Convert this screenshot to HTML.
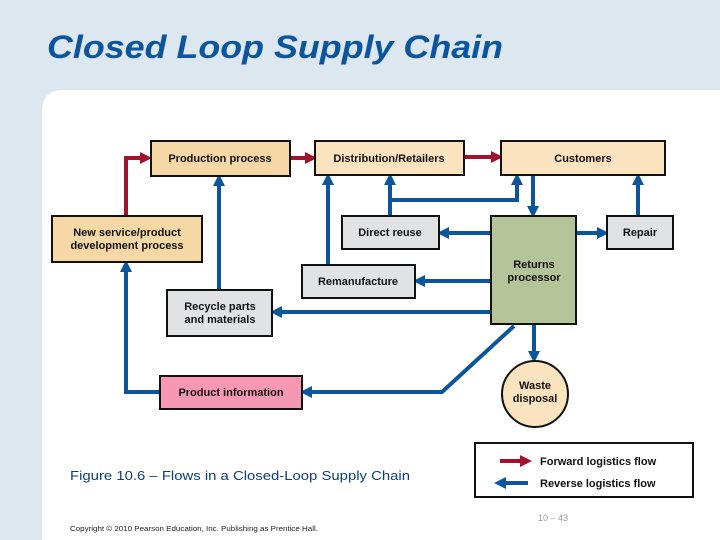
<!DOCTYPE html>
<html><head><meta charset="utf-8"><style>
body{margin:0;width:720px;height:540px;overflow:hidden;background:#dce7f0;font-family:"Liberation Sans",sans-serif;}
</style></head><body>
<svg width="720" height="540" xmlns="http://www.w3.org/2000/svg" style="position:absolute;left:0;top:0">
<defs>
<marker id="b" markerWidth="3" markerHeight="3" refX="2" refY="1.5" orient="auto" markerUnits="strokeWidth"><path d="M0,0L3,1.5L0,3z" fill="#0b559c"/></marker>
<marker id="r" markerWidth="3" markerHeight="3" refX="2" refY="1.5" orient="auto" markerUnits="strokeWidth"><path d="M0,0L3,1.5L0,3z" fill="#a3122d"/></marker>
</defs>
<path d="M42,112 Q42,90 64,90 L720,90 L720,540 L42,540z" fill="#fff"/>
<text x="47" y="58" font-size="32" font-style="italic" font-weight="bold" fill="#0b559c" textLength="456" lengthAdjust="spacingAndGlyphs">Closed Loop Supply Chain</text>
<g fill="none" stroke-width="4">
<path d="M126,216V158H148" stroke="#a3122d" marker-end="url(#r)"/>
<path d="M290,158H313" stroke="#a3122d" marker-end="url(#r)"/>
<path d="M464,157H499" stroke="#a3122d" marker-end="url(#r)"/>
<g stroke="#0b559c" marker-end="url(#b)">
<path d="M219,290V178"/>
<path d="M328,265V177"/>
<path d="M390,216V177"/>
<path d="M390,200H517V177"/>
<path d="M533,175V214"/>
<path d="M491,233H441"/>
<path d="M576,233H605"/>
<path d="M638,216V177"/>
<path d="M491,281H417"/>
<path d="M491,312H274"/>
<path d="M534,324V359"/>
<path d="M514,326L442,392H304"/>
<path d="M160,392H126V264"/>
<path d="M528,483H498"/>
</g>
<path d="M500,461H528" stroke="#a3122d" marker-end="url(#r)"/>
</g>
<g stroke="#111" stroke-width="2">
<rect x="151" y="141" width="139" height="35" fill="#f5d8a6"/>
<rect x="315" y="141" width="149" height="34" fill="#fbe3c0"/>
<rect x="501" y="141" width="164" height="34" fill="#fbe3c0"/>
<rect x="52" y="216" width="150" height="46" fill="#f5d8a6"/>
<rect x="342" y="216" width="97" height="33" fill="#e1e2e3"/>
<rect x="607" y="216" width="66" height="33" fill="#e1e2e3"/>
<rect x="302" y="265" width="113" height="33" fill="#e1e2e3"/>
<rect x="491" y="216" width="85" height="108" fill="#b5c399"/>
<rect x="167" y="290" width="105" height="46" fill="#e1e2e3"/>
<rect x="160" y="376" width="142" height="33" fill="#f698b3"/>
<circle cx="535" cy="394" r="33" fill="#fbe3c0"/>
<rect x="475" y="443" width="218" height="54" fill="none"/>
</g>
<g font-size="11" font-weight="bold" fill="#111" text-anchor="middle">
<text x="220" y="162">Production process</text>
<text x="389" y="162">Distribution/Retailers</text>
<text x="583" y="162">Customers</text>
<text x="127" y="236">New service/product</text>
<text x="127" y="249">development process</text>
<text x="390" y="236">Direct reuse</text>
<text x="640" y="236">Repair</text>
<text x="358" y="285">Remanufacture</text>
<text x="534" y="268">Returns</text>
<text x="534" y="281">processor</text>
<text x="220" y="310">Recycle parts</text>
<text x="220" y="323">and materials</text>
<text x="231" y="396">Product information</text>
<text x="535" y="389">Waste</text>
<text x="535" y="402">disposal</text>
</g>
<text x="540" y="465" font-size="11" font-weight="bold" fill="#111">Forward logistics flow</text>
<text x="540" y="487" font-size="11" font-weight="bold" fill="#111">Reverse logistics flow</text>
<text x="70" y="480" font-size="13" fill="#0b3f7a" textLength="340" lengthAdjust="spacingAndGlyphs">Figure 10.6 – Flows in a Closed-Loop Supply Chain</text>
<text x="538" y="521" font-size="9" fill="#999">10 – 43</text>
<text x="70" y="531" font-size="7" fill="#222" textLength="248" lengthAdjust="spacingAndGlyphs">Copyright © 2010 Pearson Education, Inc. Publishing as Prentice Hall.</text>
</svg>
</body></html>
